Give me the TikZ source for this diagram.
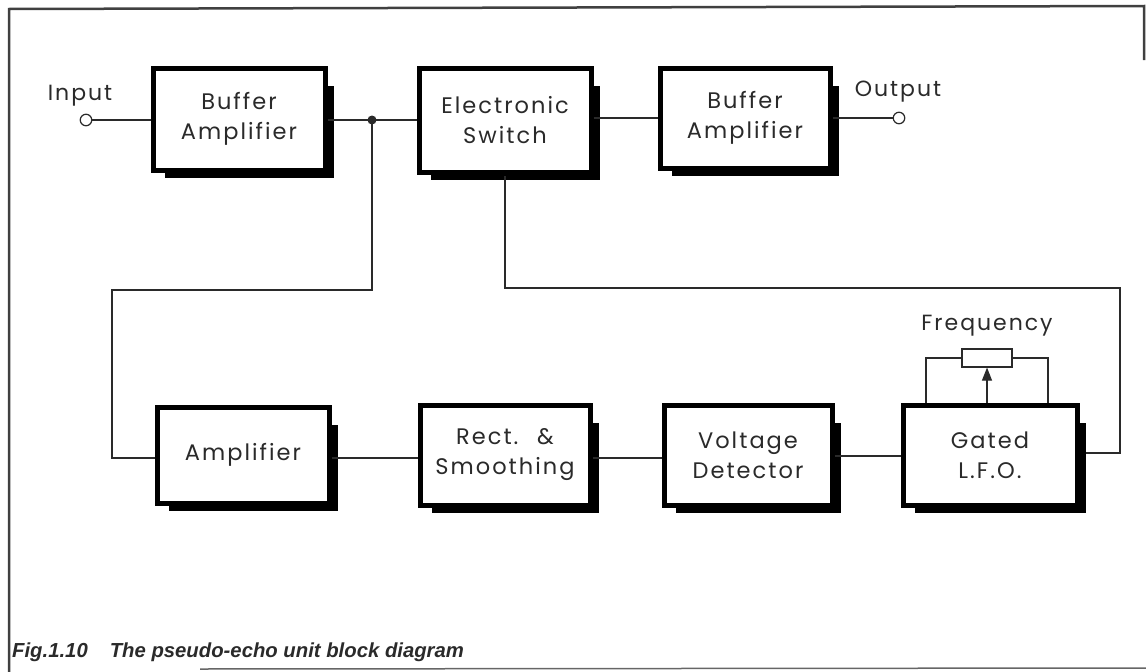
\documentclass[tikz,border=0pt]{standalone}
\usepackage{fontspec}
\setmainfont{Poppins}[LetterSpace=9]
\newfontfamily\capfont{Liberation Sans}
\usetikzlibrary{arrows.meta,calc}
\definecolor{ink}{HTML}{2a2a2a}
\begin{document}
\begin{tikzpicture}[x=1pt,y=-1pt,
  blk/.style={draw=black,line width=5pt,fill=white,align=center,text=ink,
    font=\fontsize{22.5}{30}\selectfont,inner sep=0pt},
  wire/.style={draw=ink,line width=1.1pt},
  term/.style={circle,draw=ink,line width=1.2pt,fill=white,minimum size=11.5pt,inner sep=0pt},
  lbl/.style={text=ink,font=\fontsize{22}{26}\selectfont,inner sep=0pt},
  frame/.style={draw=black!75,line width=2.5pt}]
\useasboundingbox (0,0) rectangle (1146,672);
% frame
\draw[frame] (9,672) -- (9,9) -- (1144,6) -- (1144,60);
\draw[draw=black!60,line width=1.5pt] (200,669) -- (1146,668);
% shadows + boxes
\newcommand{\blkbox}[6]{%
  \fill[black] (#2+12,#3+18) rectangle (#4+9,#5+8);
  \node[blk,minimum width=#4-#2,minimum height=#5-#3] (#1) at ({(#2+#4)/2},{(#3+#5)/2}) {#6};}
\blkbox{ba1}{153}{68}{325}{170}{Buffer\\Amplifier}
\blkbox{es}{419}{68}{591}{172}{Electronic\\Switch}
\blkbox{ba2}{660}{68}{830}{168}{Buffer\\Amplifier}
\blkbox{amp}{157}{407}{329}{503}{Amplifier}
\blkbox{rs}{420}{405}{590}{505}{Rect.~ \&\\Smoothing}
\blkbox{vd}{664}{405}{832}{505}{Voltage\\Detector}
\blkbox{gl}{903}{405}{1077}{505}{Gated\\L.F.O.}
% terminals
\node[term] (in) at (86,120) {};
\node[term] (out) at (899,118) {};
\node[lbl] (inl) at (80,96) {Input};
\node[lbl] (outl) at (898,92) {Output};
% top wires
\coordinate (j) at (372,120);
\draw[wire] (in) -- (in -| ba1.west);
\draw[wire] (ba1.east |- j) -- (es.west |- j);
\fill[ink] (j) circle (4.5pt);
\draw[wire] (es.east |- 0,118) -- (ba2.west |- 0,118);
\draw[wire] (ba2.east |- out) -- (out);
% feedback loops
\draw[wire] (j) -- (372,290) -- (112,290) -- (112,458) -- (amp.west |- 0,458);
\draw[wire] (505,176) -- (505,288) -- (1120,288) -- (1120,453) -- (1086,453);
% lower wires
\draw[wire] (amp.east |- 0,458) -- (rs.west |- 0,458);
\draw[wire] (rs.east |- 0,458) -- (vd.west |- 0,458);
\draw[wire] (vd.east |- 0,456) -- (gl.west |- 0,456);
% frequency pot
\node[draw=ink,line width=1.1pt,fill=white,minimum width=50pt,minimum height=18pt,inner sep=0pt] (pot) at (987,358) {};
\node[lbl] (freq) at (987,326) {Frequency};
\draw[wire] (pot.west) -- (926,358) -- (926,403);
\draw[wire] (pot.east) -- (1048,358) -- (1048,403);
\draw[wire,-{Triangle[length=13pt,width=10pt]}] (987,403) -- (pot.south);
% caption
\node[anchor=base west,inner sep=0pt,text=ink,font=\capfont\bfseries\itshape\fontsize{20.3}{24}\selectfont] (cap) at (12,657) {Fig.1.10\hspace{22pt}The pseudo-echo unit block diagram};
\end{tikzpicture}
\end{document}
